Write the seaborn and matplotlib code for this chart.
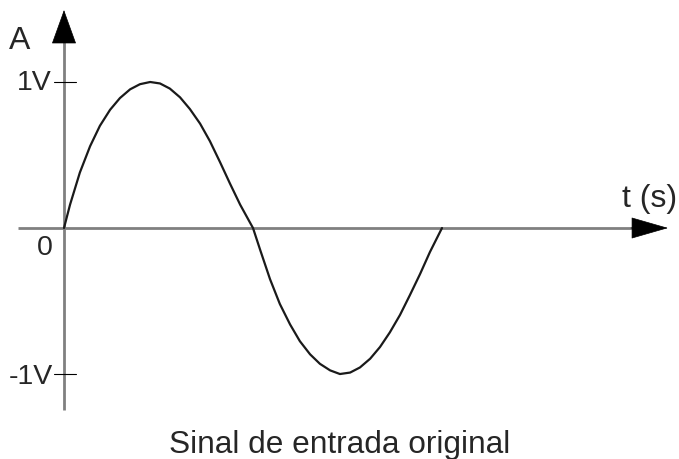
import matplotlib
matplotlib.use("Agg")
import matplotlib.pyplot as plt
from matplotlib.patches import FancyArrowPatch
import pandas as pd
import seaborn as sns

# One period of the input signal (time in periods, amplitude in volts)
time_s = [0.000, 0.016, 0.042, 0.069, 0.095, 0.122, 0.148, 0.175, 0.201, 0.228,
          0.254, 0.280, 0.307, 0.333, 0.360, 0.386, 0.413, 0.439, 0.466, 0.500,
          0.519, 0.545, 0.571, 0.598, 0.624, 0.651, 0.677, 0.704, 0.730, 0.757,
          0.783, 0.810, 0.836, 0.862, 0.889, 0.915, 0.942, 0.968, 1.000]
amplitude_v = [0.000, 0.160, 0.380, 0.560, 0.700, 0.810, 0.890, 0.950, 0.985, 1.000,
               0.990, 0.955, 0.895, 0.815, 0.715, 0.595, 0.450, 0.305, 0.160, 0.000,
               -0.150, -0.350, -0.520, -0.660, -0.775, -0.865, -0.930, -0.975, -1.000, -0.990,
               -0.955, -0.895, -0.815, -0.715, -0.595, -0.460, -0.315, -0.165, 0.000]

tick_values = [1.0, -1.0]
tick_labels = ["1V", "-1V"]

sns.set_theme(style="white")
plt.rcParams["font.family"] = ["Liberation Sans", "DejaVu Sans"]

df = pd.DataFrame({"t": time_s, "A": amplitude_v})

fig = plt.figure(figsize=(6.79, 4.59), dpi=100)
ax = fig.add_axes([0, 0, 1, 1])

axis_grey = "#808080"

# Coordinate axes
ax.plot([-0.122, 1.52], [0, 0], color=axis_grey, lw=2.0, solid_capstyle="butt", zorder=1)
ax.plot([0, 0], [-1.247, 1.29], color=axis_grey, lw=2.0, solid_capstyle="butt", zorder=1)

# Arrow heads
ax.add_patch(FancyArrowPatch((1.50, 0), (1.598, 0), arrowstyle="-|>,head_length=25,head_width=7.2",
                             mutation_scale=1, color="black", lw=0.5, shrinkA=0, shrinkB=0, zorder=3))
ax.add_patch(FancyArrowPatch((0, 1.27), (0, 1.493), arrowstyle="-|>,head_length=23,head_width=8.3",
                             mutation_scale=1, color="black", lw=0.5, shrinkA=0, shrinkB=0, zorder=3))

# Amplitude ticks
for v in tick_values:
    ax.plot([-0.026, 0.032], [v, v], color="black", lw=0.8, zorder=2)

# Signal
sns.lineplot(data=df, x="t", y="A", ax=ax, color="#1a1a1a", lw=1.6, sort=False,
             estimator=None, zorder=4)
line = ax.get_lines()[-1]
line.set_solid_joinstyle("round")

ax.set_xlim(-0.1693, 1.627)
ax.set_ylim(-1.582, 1.5616)
ax.axis("off")

fs = 20.5
tr = ax.transAxes
ax.text(0.0133, 0.893, "A", transform=tr, fontsize=23, ha="left", va="baseline")
ax.text(0.0766, 0.804, tick_labels[0], transform=tr, fontsize=fs, ha="right", va="baseline")
ax.text(0.0780, 0.163, tick_labels[1], transform=tr, fontsize=fs, ha="right", va="baseline")
ax.text(0.0780, 0.444, "0", transform=tr, fontsize=fs, ha="right", va="baseline")
ax.text(0.916, 0.549, "t (s)", transform=tr, fontsize=23, ha="left", va="baseline")
ax.text(0.4995, 0.0131, "Sinal de entrada original", transform=tr, fontsize=22.8,
        ha="center", va="baseline")

fig.savefig("out.png", dpi=100)
